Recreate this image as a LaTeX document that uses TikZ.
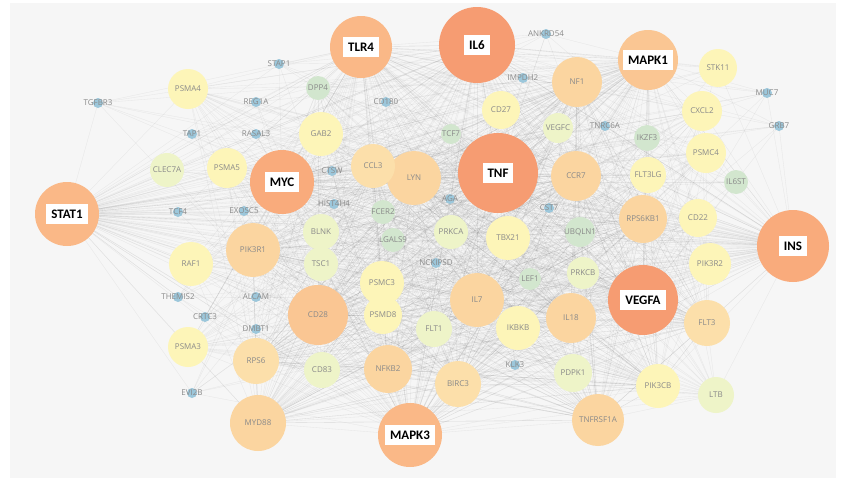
\documentclass[tikz,border=0pt]{standalone}
\usepackage{fontspec}
\setmainfont{Open Sans}
\newfontfamily\hubfont{Carlito}
\definecolor{hA}{HTML}{F69C72}
\definecolor{hB}{HTML}{F9AB7C}
\definecolor{hC}{HTML}{FAB887}
\definecolor{hD}{HTML}{FAC693}
\definecolor{mA}{HTML}{FBD5A0}
\definecolor{mB}{HTML}{FCDFAA}
\definecolor{yA}{HTML}{FDF5B8}
\definecolor{gY}{HTML}{EEF4C8}
\definecolor{gG}{HTML}{D2E6CE}
\definecolor{bB}{HTML}{9CC7DB}
\definecolor{txt}{HTML}{8A8A8A}
\definecolor{bg}{HTML}{F6F6F6}
\tikzset{
 edge/.style={draw=black!55,line width=0.35pt,opacity=0.11},
 dot/.style={circle,inner sep=0pt,draw=none},
 lab/.style={text=txt,font=\fontsize{8}{9}\selectfont,inner sep=0pt},
 hub/.style={fill=white,text=black,font=\hubfont\bfseries\fontsize{13}{14}\selectfont,inner xsep=5pt,inner ysep=3pt,minimum height=20pt}
}
\def\hubs{IL6,TNF,VEGFA,INS,MYC,TLR4,STAT1,MAPK3,MAPK1}
\def\meds{LYN,NF1,CCR7,PIK3R1,CD28,IL7,IL18,MYD88,NFKB2,BIRC3,TNFRSF1A,RPS6KB1,CCL3,RPS6,FLT3,PIK3CB}
\def\hubnodes{IL6/477/45/38/hA,TNF/498/173/40/hA,VEGFA/643/300/35/hA,INS/793/246/36/hB,MYC/282/182/32/hB,TLR4/361/47/31/hC,STAT1/67/214/32/hC,MAPK3/410/435/32/hC,MAPK1/648/60/30/hD}
\def\othernodes{LYN/414/178/27/mA,NF1/577/82/25/mA,CCR7/576/176/25/mA,PIK3R1/253/250/27/mA,CD28/318/315/30/hD,IL7/477/300/27/mA,IL18/571/318/25/mA,MYD88/258/423/28/mA,NFKB2/388/369/24/mA,BIRC3/458/384/23/mB,TNFRSF1A/598/420/26/mA,RPS6KB1/643/219/24/mA,CCL3/373/166/22/mB,RPS6/256/361/23/mB,FLT3/707/323/23/mB,PIK3CB/658/386/22/yA,
PSMA4/188/89/20/yA,PSMA5/227/168/20/yA,GAB2/321/134/22/yA,RAF1/191/264/22/yA,PSMA3/188/347/20/yA,PSMC3/382/283/22/yA,PSMD8/383/315/19/yA,TBX21/508/238/22/yA,IKBKB/518/328/22/yA,FLT1/434/329/18/gY,CD27/501/110/19/yA,STK11/718/68/19/yA,CXCL2/702/111/20/yA,PSMC4/706/153/20/yA,FLT3LG/648/175/18/yA,PIK3R2/710/264/21/yA,CD22/698/218/19/yA,PDPK1/573/373/19/gY,
CLEC7A/167/170/17/gY,BLNK/321/232/18/gY,TSC1/321/264/17/gY,CD83/322/370/18/gY,PRKCA/451/232/17/gY,PRKCB/583/273/16/gY,LTB/716/395/18/gY,VEGFC/558/128/15/gY,UBQLN1/580/232/15/gG,
DPP4/318/88/12/gG,IKZF3/647/138/13/gG,IL6ST/736/182/12/gG,LEF1/530/279/11/gG,FCER2/383/212/12/gG,LGALS9/393/240/12/gG,TCF7/451/134/10/gG,
STAP1/279/64/5/bB,TGFBR3/98/103/5/bB,REG1A/256/102/5/bB,CD180/386/102/5/bB,TAP1/192/134/5/bB,RASAL3/256/134/5/bB,CTSW/332/171/5/bB,TCF4/178/212/5/bB,EXOSC5/244/211/5/bB,HIST4H4/334/204/5/bB,AGA/450/199/5/bB,CST7/549/208/5/bB,NCKIPSD/436/263/5/bB,THEMIS2/178/297/5/bB,CRTC3/205/317/5/bB,ALCAM/256/297/5/bB,DMBT1/256/329/5/bB,EVI2B/192/393/5/bB,KLK3/515/365/5/bB,ANKRD54/546/34/5/bB,IMPDH2/523/78/5/bB,TNRC6A/605/126/5/bB,MUC7/767/93/5/bB,GRB7/779/126/5/bB}
\def\yel{PSMA4,PSMA5,GAB2,RAF1,PSMA3,PSMC3,PSMD8,TBX21,IKBKB,FLT1,CD27,CXCL2,PSMC4,FLT3LG,PIK3R2,CD22,PDPK1,BLNK,TSC1,CD83,PRKCA,PRKCB,LTB,VEGFC,UBQLN1,DPP4,IKZF3,LEF1,FCER2,LGALS9,TCF7}
\begin{document}
\begin{tikzpicture}[x=1pt,y=-1pt]
\useasboundingbox (0,0) rectangle (853,482);
\fill[white] (0,0) rectangle (853,482);
\fill[bg] (10,3) rectangle (836,478);
\foreach \n/\x/\y/\r/\c in \hubnodes { \coordinate (\n) at (\x,\y); }
\foreach \n/\x/\y/\r/\c in \othernodes { \coordinate (\n) at (\x,\y); }
\foreach \h in \hubs {
  \foreach \n/\x/\y/\r/\c in \othernodes { \draw[edge] (\h) -- (\n); }
  \foreach \m in \hubs { \draw[edge] (\h) -- (\m); } }
\foreach \h in \meds { \foreach \m in \meds { \draw[edge] (\h) -- (\m); } \foreach \m in \yel { \draw[edge] (\h) -- (\m); } }
\foreach \n/\x/\y/\r/\c in \hubnodes { \node[dot,fill=\c,minimum size=2*\r] (c\n) at (\n) {}; }
\foreach \n/\x/\y/\r/\c in \othernodes { \node[dot,fill=\c,minimum size=2*\r] (c\n) at (\n) {}; }
\foreach \n/\x/\y/\r/\c in \othernodes { \node[lab] (t\n) at (\n) {\n}; }
\foreach \h in \hubs { \node[hub] (h\h) at (\h) {\h}; }
\end{tikzpicture}
\end{document}
